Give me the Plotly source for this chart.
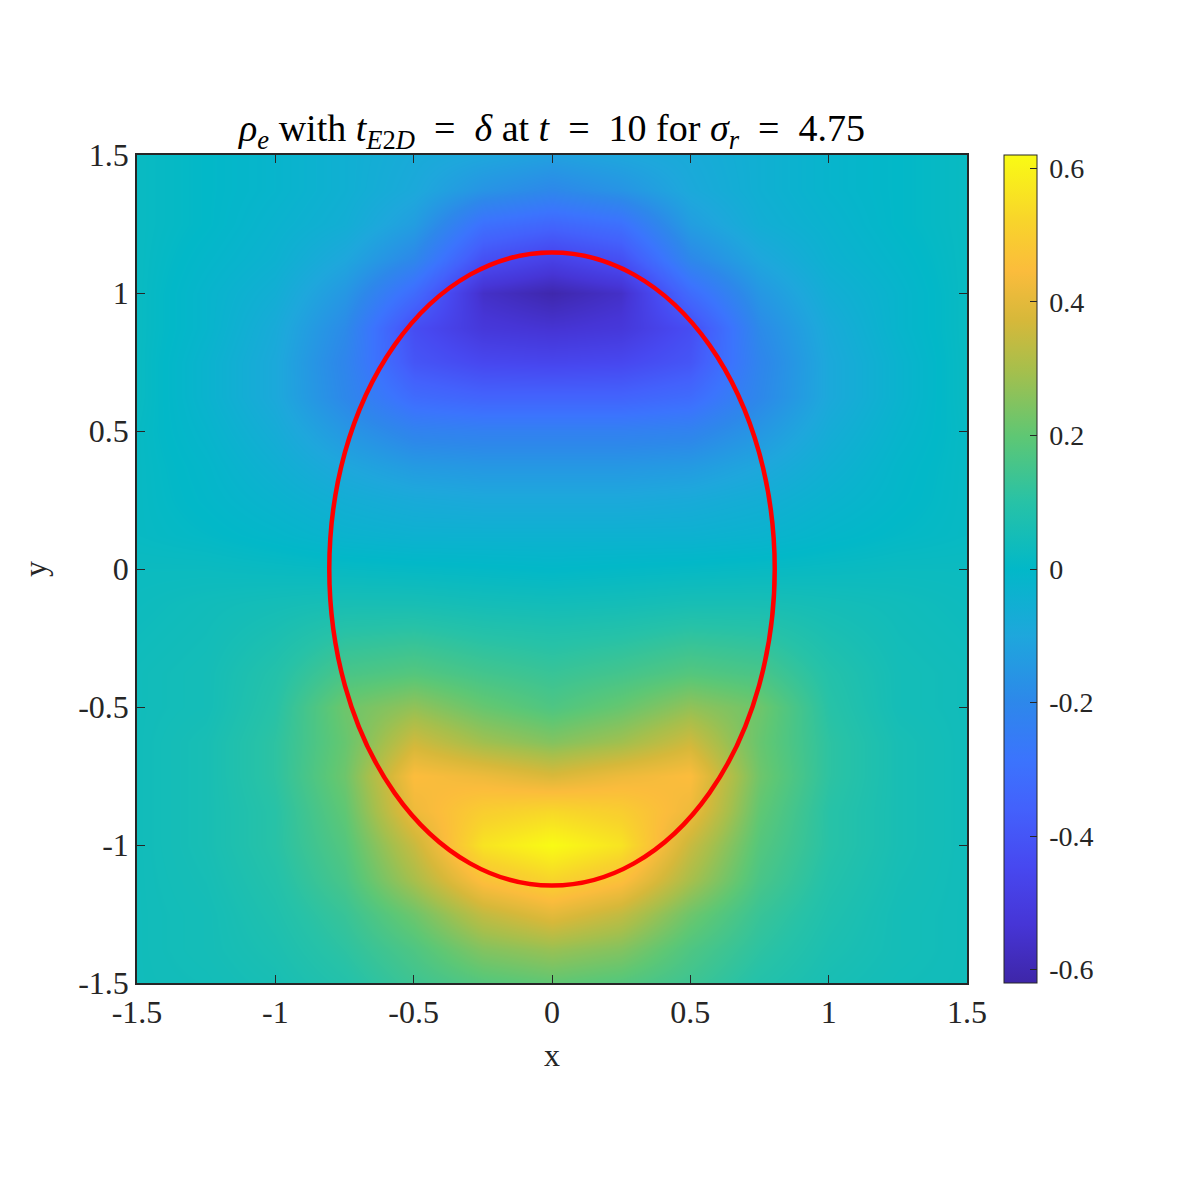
import plotly.graph_objects as go

# grid coordinates
x_right = [0.0, 0.25, 0.5, 0.75, 1.0, 1.25, 1.5]
y_vals = [-1.5, -1.375, -1.25, -1.125, -1.0, -0.875, -0.75, -0.625, -0.5, -0.375, -0.25, -0.125,
          0.0, 0.125, 0.25, 0.375, 0.5, 0.625, 0.75, 0.875, 1.0, 1.125, 1.25, 1.375, 1.5]

# rho_e values (right half, x = 0 ... 1.5); the field is mirror-symmetric in x
rho_right = [
    [0.20, 0.18, 0.14, 0.09, 0.06, 0.045, 0.04],     # y=-1.5
    [0.28, 0.25, 0.17, 0.11, 0.07, 0.05, 0.04],      # y=-1.375
    [0.40, 0.34, 0.22, 0.13, 0.08, 0.05, 0.04],      # y=-1.25
    [0.52, 0.46, 0.30, 0.16, 0.09, 0.055, 0.04],     # y=-1.125
    [0.62, 0.56, 0.35, 0.18, 0.10, 0.06, 0.04],      # y=-1.0
    [0.53, 0.50, 0.42, 0.20, 0.10, 0.06, 0.04],      # y=-0.875
    [0.38, 0.42, 0.45, 0.22, 0.11, 0.06, 0.04],      # y=-0.75
    [0.25, 0.29, 0.36, 0.21, 0.11, 0.06, 0.04],      # y=-0.625
    [0.17, 0.21, 0.27, 0.22, 0.10, 0.05, 0.04],      # y=-0.5
    [0.13, 0.15, 0.18, 0.16, 0.09, 0.05, 0.04],      # y=-0.375
    [0.09, 0.10, 0.12, 0.11, 0.07, 0.045, 0.035],    # y=-0.25
    [0.045, 0.05, 0.06, 0.06, 0.05, 0.04, 0.03],     # y=-0.125
    [0.00, 0.005, 0.01, 0.015, 0.02, 0.025, 0.025],  # y=0
    [-0.04, -0.04, -0.04, -0.03, -0.01, 0.005, 0.015],  # y=0.125
    [-0.09, -0.09, -0.08, -0.06, -0.03, -0.005, 0.015],  # y=0.25
    [-0.15, -0.15, -0.14, -0.10, -0.05, -0.01, 0.015],  # y=0.375
    [-0.23, -0.23, -0.22, -0.15, -0.07, -0.02, 0.015],  # y=0.5
    [-0.35, -0.35, -0.32, -0.20, -0.09, -0.03, 0.02],   # y=0.625
    [-0.46, -0.45, -0.40, -0.21, -0.09, -0.03, 0.02],   # y=0.75
    [-0.54, -0.52, -0.43, -0.19, -0.08, -0.02, 0.02],   # y=0.875
    [-0.61, -0.56, -0.32, -0.15, -0.06, -0.02, 0.02],   # y=1.0
    [-0.48, -0.42, -0.20, -0.10, -0.04, -0.01, 0.02],   # y=1.125
    [-0.34, -0.30, -0.13, -0.06, -0.03, 0.0, 0.02],     # y=1.25
    [-0.20, -0.16, -0.09, -0.05, -0.02, 0.0, 0.02],     # y=1.375
    [-0.12, -0.10, -0.08, -0.05, -0.02, 0.0, 0.02],     # y=1.5
]

# ellipse (interface) semi-axes
ellipse_a = 0.805
ellipse_b = 1.147

axis_ticks = [-1.5, -1, -0.5, 0, 0.5, 1, 1.5]
axis_ticktext = ["-1.5", "-1", "-0.5", "0", "0.5", "1", "1.5"]
cbar_ticks = [-0.6, -0.4, -0.2, 0, 0.2, 0.4, 0.6]
cbar_ticktext = ["\u2009-0.6", "\u2009-0.4", "\u2009-0.2", "\u20090", "\u20090.2", "\u20090.4", "\u20090.6"]

# full grid via mirror symmetry
x_full = [-v for v in x_right[::-1]] + x_right[1:]
z_full = [row[::-1] + row[1:] for row in rho_right]

parula = [
    [0.00, "#3e26a8"], [0.07, "#4635d6"], [0.14, "#4748f0"], [0.21, "#4361fc"],
    [0.27, "#3b74fd"], [0.34, "#2d88ea"], [0.42, "#1ea7dc"], [0.50, "#02b8c8"],
    [0.58, "#27c2a7"], [0.66, "#5ec774"], [0.74, "#a6bf4c"], [0.80, "#d6b83a"],
    [0.86, "#fbbc3c"], [0.92, "#f8d42b"], [1.00, "#f9fb14"],
]

FONT = "Liberation Serif"
DARK = "#262626"

W = 1173  # page body has an 8px margin in the browser
L, R, T, B = 129, 214, 147, 198

fig = go.Figure()
fig.add_trace(go.Heatmap(
    x=x_full, y=y_vals, z=z_full, zsmooth="best",
    colorscale=parula, zmin=-0.62, zmax=0.62,
    colorbar=dict(
        x=1.0446, xanchor="left", xref="paper",
        y=0.5, yanchor="middle", len=1.0, lenmode="fraction",
        thickness=33, thicknessmode="pixels",
        outlinecolor=DARK, outlinewidth=1,
        ticks="inside", ticklen=7, tickcolor=DARK,
        tickvals=cbar_ticks, ticktext=cbar_ticktext,
        tickfont=dict(family=FONT, size=28, color=DARK),
        xpad=0, ypad=0,
    ),
))

fig.add_shape(type="circle", xref="x", yref="y",
              x0=-ellipse_a, x1=ellipse_a, y0=-ellipse_b, y1=ellipse_b,
              line=dict(color="#ff0000", width=4.5))

axis_common = dict(
    range=[-1.5, 1.5], tickvals=axis_ticks, ticktext=axis_ticktext,
    ticks="inside", ticklen=8, tickcolor=DARK, mirror="ticks",
    showline=True, linecolor=DARK, linewidth=1.5, showgrid=False, zeroline=False,
    tickfont=dict(family=FONT, size=32, color=DARK),
)

sp = "\u2002"
title_txt = (f"<i>ρ</i><sub><i>e</i></sub> with <i>t</i><sub><i>E</i>2<i>D</i></sub>{sp}={sp}<i>δ</i> at "
             f"<i>t</i>{sp}={sp}10 for <i>σ</i><sub><i>r</i></sub>{sp}={sp}4.75")

fig.update_layout(
    width=W, height=W,
    paper_bgcolor="white", plot_bgcolor="white",
    margin=dict(l=L, r=R, t=T, b=B),
    title=dict(
        text=title_txt,
        x=(552 - 8) / W, xanchor="center", y=1 - (128 - 8) / W, yanchor="middle",
        font=dict(family=FONT, size=38, color="black"),
    ),
    xaxis=dict(**axis_common, title=dict(text="x", font=dict(family=FONT, size=32, color=DARK), standoff=14)),
    yaxis=dict(**axis_common, title=dict(text="y", font=dict(family=FONT, size=32, color=DARK), standoff=22)),
    showlegend=False,
)

fig.write_html("out.html")
